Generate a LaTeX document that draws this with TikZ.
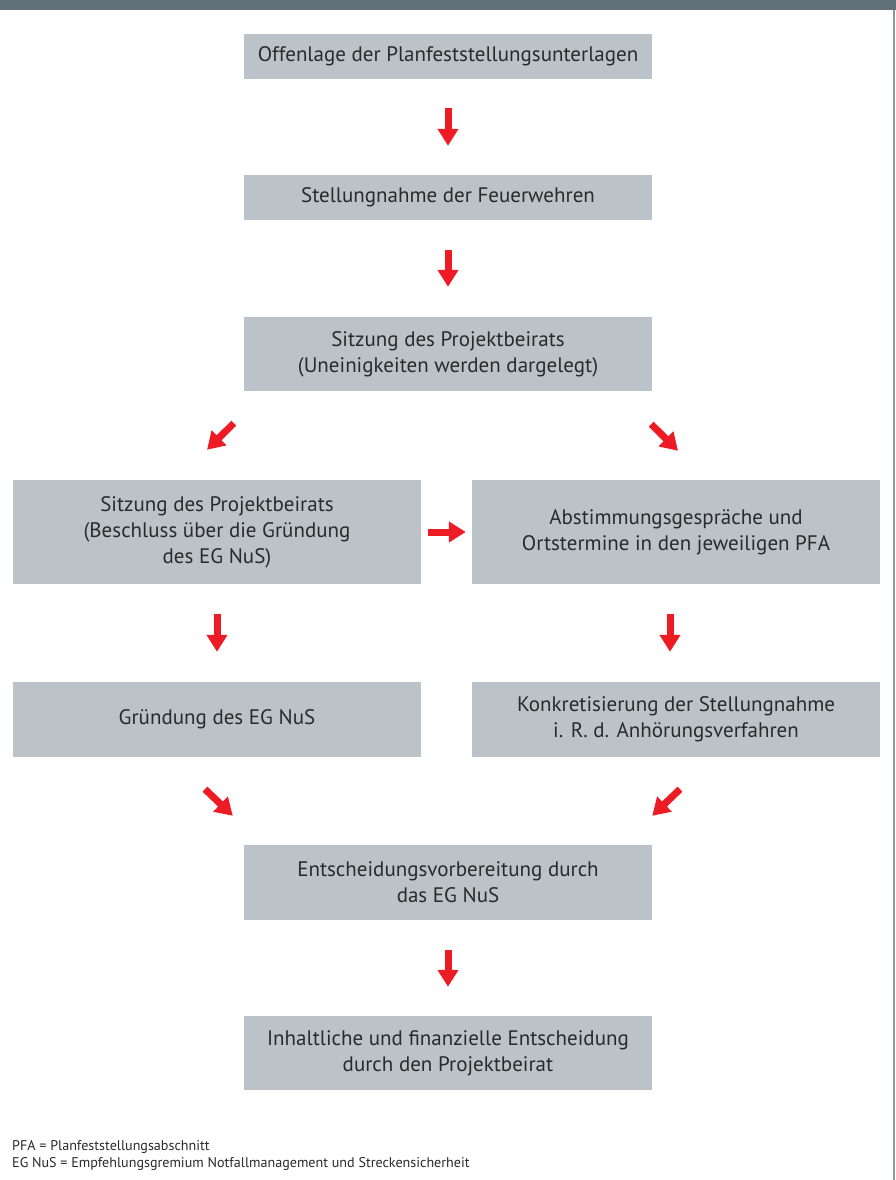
\documentclass[tikz,border=0pt]{standalone}
\usepackage{fontspec}
\setmainfont{PT Sans}
\usepackage{tikz}
\usetikzlibrary{arrows.meta, positioning, calc}
\definecolor{boxgray}{HTML}{BCC3C8}
\definecolor{bargray}{HTML}{627079}
\definecolor{linegray}{HTML}{8E999F}
\definecolor{flowred}{HTML}{ED1C24}
\definecolor{textgray}{HTML}{2A2A2A}

\tikzset{
  stepbox/.style={rectangle, fill=boxgray, minimum width=408pt, text=textgray,
    align=center, inner sep=0pt, font=\fontsize{21}{26}\selectfont},
  flowarrow/.style={draw=flowred, line width=7pt, -{Triangle[length=17pt, width=20pt]}, flowred}
}

\begin{document}
\begin{tikzpicture}[x=1pt, y=-1pt]
    \useasboundingbox (0,0) rectangle (896,1180);
    % frame
    \fill[bargray] (0,0) rectangle (896,10);
    \draw[linegray, line width=1.5pt] (894,10) -- (894,1180);

    % middle column
    \node[stepbox, minimum height=45pt] (offen) at (448,56.5) {Offenlage der Planfeststellungsunterlagen};
    \node[stepbox, minimum height=45pt] (feuer) at (448,197.5) {Stellungnahme der Feuerwehren};
    \node[stepbox, minimum height=74pt] (beirat) at (448,354) {Sitzung des Projektbeirats\\(Uneinigkeiten werden dargelegt)};

    % two columns
    \node[stepbox, minimum height=104pt] (beschluss) at (217,532) {Sitzung des Projektbeirats\\(Beschluss über die Gründung\\des EG NuS)};
    \node[stepbox, minimum height=104pt] (abstimm) at (676,532) {Abstimmungsgespräche und\\Ortstermine in den jeweiligen PFA};
    \node[stepbox, minimum height=75pt] (gruendung) at (217,719.5) {Gründung des EG NuS};
    \node[stepbox, minimum height=75pt] (konkret) at (676,719.5) {Konkretisierung der Stellungnahme\\i. R. d. Anhörungsverfahren};

    % bottom
    \node[stepbox, minimum height=75pt] (vorber) at (448,882.5) {Entscheidungsvorbereitung durch\\das EG NuS};
    \node[stepbox, minimum height=74pt] (entsch) at (448,1053) {Inhaltliche und finanzielle Entscheidung\\durch den Projektbeirat};

    % arrows
    \draw[flowarrow] ([yshift=-29pt]offen.south) -- ([yshift=29pt]feuer.north);
    \draw[flowarrow] ([yshift=-30pt]feuer.south) -- ([yshift=30pt]beirat.north);
    \draw[flowarrow] ([xshift=-10pt, yshift=-32pt]beirat.south west) -- ([xshift=-10pt, yshift=30pt]beschluss.north);
    \draw[flowarrow] ([xshift=-1pt, yshift=-33pt]beirat.south east) -- ([xshift=2pt, yshift=29pt]abstimm.north);
    \draw[flowarrow] ([xshift=7pt]beschluss.east) -- ([xshift=-6pt]abstimm.west);
    \draw[flowarrow] ([yshift=-30pt]beschluss.south) -- ([yshift=30pt]gruendung.north);
    \draw[flowarrow] ([xshift=-6pt, yshift=-30pt]abstimm.south) -- ([xshift=-6pt, yshift=30pt]konkret.north);
    \draw[flowarrow] ([xshift=-12pt, yshift=-32pt]gruendung.south) -- ([xshift=-11pt, yshift=29pt]vorber.north west);
    \draw[flowarrow] ([xshift=4pt, yshift=-32pt]konkret.south) -- ([yshift=29pt]vorber.north east);
    \draw[flowarrow] ([yshift=-30pt]vorber.south) -- ([yshift=29pt]entsch.north);

    % legend
    \node[anchor=north west, align=left, inner sep=0pt, text=textgray,
      font=\fontsize{14.1}{17}\selectfont] (legende) at (12,1140)
      {PFA = Planfeststellungsabschnitt\\EG NuS = Empfehlungsgremium Notfallmanagement und Streckensicherheit};
\end{tikzpicture}
\end{document}
